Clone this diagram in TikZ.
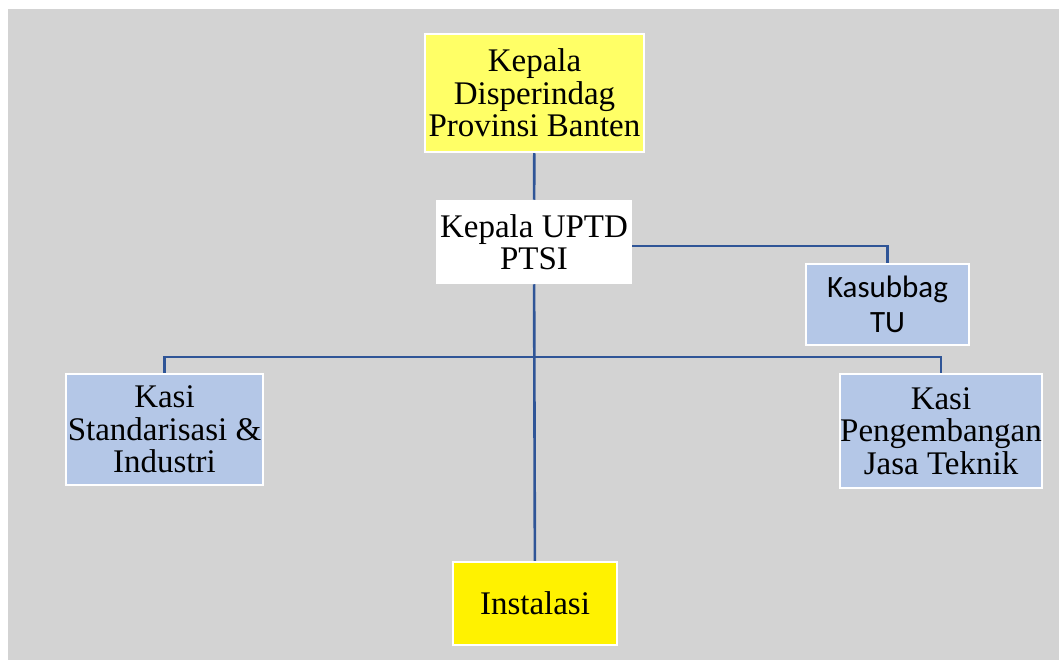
\documentclass[tikz,border=0pt]{standalone}
\usepackage{fontspec}
\setmainfont{Liberation Serif}
\newfontfamily\calibrifont{Carlito}
\definecolor{bggray}{RGB}{211,211,211}
\definecolor{linkblue}{RGB}{47,85,151}
\definecolor{boxblue}{RGB}{180,199,231}
\definecolor{paleyellow}{RGB}{255,255,102}
\tikzset{
  unit/.style={draw=white, line width=2.5pt, align=center, inner sep=0pt,
    font=\fontsize{33}{32.5}\selectfont},
  link/.style={draw=linkblue, line width=2.6pt}
}
\begin{document}
\begin{tikzpicture}[x=1pt,y=-1pt]
\useasboundingbox (0,0) rectangle (1059,660);
\fill[bggray] (8,9) rectangle (1059,660); % backdrop
% units
\node[unit, fill=paleyellow, minimum width=219, minimum height=118] (kadis) at (534.5,93) {Kepala\\Disperindag\\Provinsi Banten};
\node[unit, fill=white, minimum width=194, minimum height=82] (uptd) at (534,242) {Kepala UPTD\\PTSI};
\node[unit, fill=boxblue, minimum width=163, minimum height=81, font=\calibrifont\fontsize{31}{35}\selectfont] (tu) at (887.5,304.5) {Kasubbag\\TU};
\node[unit, fill=boxblue, minimum width=197, minimum height=111] (std) at (164.5,429.5) {Kasi\\Standarisasi \&\\Industri};
\node[unit, fill=boxblue, minimum width=198, minimum height=114] (pjt) at (941,431) {Kasi\\Pengembangan\\Jasa Teknik};
\node[unit, fill=yellow, minimum width=164, minimum height=83] (inst) at (535,603.5) {Instalasi};
% connectors
\coordinate (bus) at (535,357);
\draw[link] (kadis) -- (uptd);
\draw[link] ([yshift=-4]uptd.east) -| (tu.north);
\draw[link] (uptd) -- (inst);
\draw[link] (std.north) |- (bus) -| (pjt.north);
\end{tikzpicture}
\end{document}
